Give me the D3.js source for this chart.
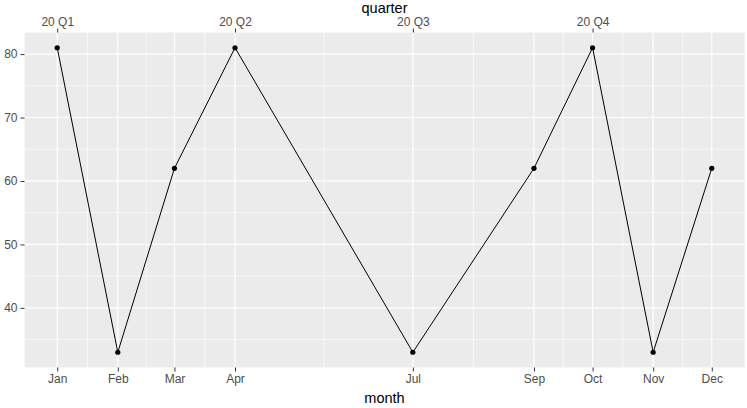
<!DOCTYPE html>
<html>
<head>
<meta charset="utf-8">
<script src="https://cdn.jsdelivr.net/npm/d3@7"></script>
<style>
  body { margin: 0; background: #fff; }
  text { font-family: "Liberation Sans", Arial, sans-serif; }
</style>
</head>
<body>
<div id="chart"></div>
<script>
// data
var months = ["2020-01-01", "2020-02-01", "2020-03-01", "2020-04-01", "2020-07-01",
              "2020-09-01", "2020-10-01", "2020-11-01", "2020-12-01"];
var values = [81, 33, 62, 81, 33, 62, 81, 33, 62];
var monthLabels = ["Jan", "Feb", "Mar", "Apr", "Jul", "Sep", "Oct", "Nov", "Dec"];
var quarterBreaks = ["2020-01-01", "2020-04-01", "2020-07-01", "2020-10-01"];
var quarterLabels = ["20 Q1", "20 Q2", "20 Q3", "20 Q4"];
var yTicks = [40, 50, 60, 70, 80];

var WIDTH = 747, HEIGHT = 408;
var PANEL = {left: 24.5, right: 744.5, top: 32.5, bottom: 367.5};

var parse = d3.utcParse("%Y-%m-%d");
var data = months.map(function(m, i) { return {date: parse(m), value: values[i]}; });

// ggplot style 5% expansion
var xMin = d3.min(data, function(d) { return d.date; });
var xMax = d3.max(data, function(d) { return d.date; });
var xPad = (xMax - xMin) * 0.05;
var x = d3.scaleUtc()
    .domain([new Date(+xMin - xPad), new Date(+xMax + xPad)])
    .range([PANEL.left, PANEL.right]);

var yMin = d3.min(values), yMax = d3.max(values);
var yPad = (yMax - yMin) * 0.05;
var y = d3.scaleLinear()
    .domain([yMin - yPad, yMax + yPad])
    .range([PANEL.bottom, PANEL.top]);

var svg = d3.select("#chart").append("svg")
    .attr("width", WIDTH)
    .attr("height", HEIGHT);

// panel background
svg.append("rect")
    .attr("x", PANEL.left)
    .attr("y", PANEL.top)
    .attr("width", PANEL.right - PANEL.left)
    .attr("height", PANEL.bottom - PANEL.top)
    .attr("fill", "#EBEBEB");

// minor gridlines: midway between major breaks
var xMajor = data.map(function(d) { return d.date; });
var xMinor = [];
for (var i = 0; i < xMajor.length - 1; i++) {
    xMinor.push(new Date((+xMajor[i] + +xMajor[i + 1]) / 2));
}
var yMinor = [];
for (var j = 0; j < yTicks.length - 1; j++) yMinor.push((yTicks[j] + yTicks[j + 1]) / 2);
yMinor.unshift(yTicks[0] - 5);
yMinor = yMinor.filter(function(v) { return v > y.domain()[0] && v < y.domain()[1]; });

var grid = svg.append("g");
grid.selectAll(".xminor").data(xMinor).enter().append("line")
    .attr("x1", function(d) { return x(d); })
    .attr("x2", function(d) { return x(d); })
    .attr("y1", PANEL.top).attr("y2", PANEL.bottom)
    .attr("stroke", "#fff").attr("stroke-width", 0.6);
grid.selectAll(".yminor").data(yMinor).enter().append("line")
    .attr("x1", PANEL.left).attr("x2", PANEL.right)
    .attr("y1", function(d) { return y(d); })
    .attr("y2", function(d) { return y(d); })
    .attr("stroke", "#fff").attr("stroke-width", 0.6);
grid.selectAll(".xmajor").data(xMajor).enter().append("line")
    .attr("x1", function(d) { return x(d); })
    .attr("x2", function(d) { return x(d); })
    .attr("y1", PANEL.top).attr("y2", PANEL.bottom)
    .attr("stroke", "#fff").attr("stroke-width", 1.2);
grid.selectAll(".ymajor").data(yTicks).enter().append("line")
    .attr("x1", PANEL.left).attr("x2", PANEL.right)
    .attr("y1", function(d) { return y(d); })
    .attr("y2", function(d) { return y(d); })
    .attr("stroke", "#fff").attr("stroke-width", 1.2);

// axes
function styleAxis(g) {
    g.select(".domain").remove();
    g.selectAll(".tick line").attr("stroke", "#333333");
    g.selectAll(".tick text").attr("fill", "#4D4D4D").style("font-size", "12px")
        .style("font-family", "'Liberation Sans', Arial, sans-serif");
}

svg.append("g")
    .attr("transform", "translate(0," + PANEL.bottom + ")")
    .call(d3.axisBottom(x).tickValues(xMajor).tickSize(4).tickPadding(3)
        .tickFormat(function(d, i) { return monthLabels[i]; }))
    .call(styleAxis);

var qDates = quarterBreaks.map(parse);
svg.append("g")
    .attr("transform", "translate(0," + PANEL.top + ")")
    .call(d3.axisTop(x).tickValues(qDates).tickSize(4).tickPadding(3)
        .tickFormat(function(d, i) { return quarterLabels[i]; }))
    .call(styleAxis);

svg.append("g")
    .attr("transform", "translate(" + PANEL.left + ",0)")
    .call(d3.axisLeft(y).tickValues(yTicks).tickSize(4).tickPadding(3))
    .call(styleAxis);

// axis titles
var midX = (PANEL.left + PANEL.right) / 2;
svg.append("text")
    .attr("x", midX).attr("y", 12.5)
    .attr("text-anchor", "middle")
    .style("font-size", "14.5px")
    .text("quarter");
svg.append("text")
    .attr("x", midX).attr("y", 403)
    .attr("text-anchor", "middle")
    .style("font-size", "14.5px")
    .text("month");

// line + points
var line = d3.line()
    .x(function(d) { return x(d.date); })
    .y(function(d) { return y(d.value); });

svg.append("path")
    .datum(data)
    .attr("d", line)
    .attr("fill", "none")
    .attr("stroke", "#000")
    .attr("stroke-width", 1);

svg.selectAll(".pt").data(data).enter().append("circle")
    .attr("cx", function(d) { return x(d.date); })
    .attr("cy", function(d) { return y(d.value); })
    .attr("r", 2.6)
    .attr("fill", "#000");
</script>
</body>
</html>
